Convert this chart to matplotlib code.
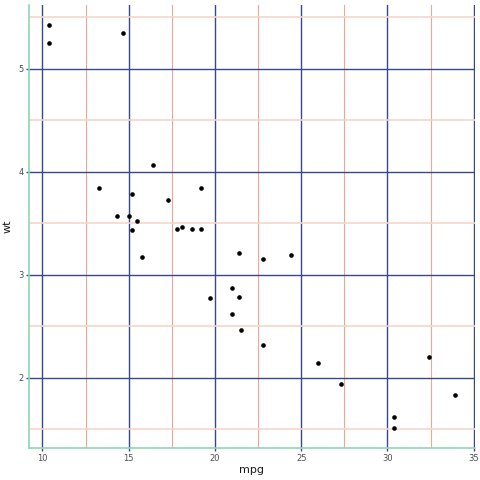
import matplotlib
matplotlib.use("Agg")
import matplotlib.pyplot as plt
from matplotlib.ticker import MultipleLocator

mpg = [21.0, 21.0, 22.8, 21.4, 18.7, 18.1, 14.3, 24.4, 22.8, 19.2, 17.8,
       16.4, 17.3, 15.2, 10.4, 10.4, 14.7, 32.4, 30.4, 33.9, 21.5, 15.5,
       15.2, 13.3, 19.2, 27.3, 26.0, 30.4, 15.8, 19.7, 15.0, 21.4]
wt = [2.620, 2.875, 2.320, 3.215, 3.440, 3.460, 3.570, 3.190, 3.150, 3.440,
      3.440, 4.070, 3.730, 3.780, 5.250, 5.424, 5.345, 2.200, 1.615, 1.835,
      2.465, 3.520, 3.435, 3.840, 3.845, 1.935, 2.140, 1.513, 3.170, 2.770,
      3.570, 2.780]

navy = "#34488a"
green = "#8fd6b4"

fig = plt.figure(figsize=(4.8, 4.8), dpi=100)
ax = fig.add_axes([29 / 480, 32 / 480, 446 / 480, 443 / 480])

ax.scatter(mpg, wt, s=11, color="black", zorder=3, linewidths=0)

xr = max(mpg) - min(mpg)
yr = max(wt) - min(wt)
ax.set_xlim(min(mpg) - 0.05 * xr, max(mpg) + 0.05 * xr)
ax.set_ylim(min(wt) - 0.05 * yr, max(wt) + 0.05 * yr)

ax.xaxis.set_major_locator(MultipleLocator(5))
ax.xaxis.set_minor_locator(MultipleLocator(2.5))
ax.yaxis.set_major_locator(MultipleLocator(1))
ax.yaxis.set_minor_locator(MultipleLocator(0.5))

ax.grid(which="major", color=navy, linewidth=1.0)
ax.xaxis.grid(which="minor", color="#eaa995", linewidth=0.8)
ax.yaxis.grid(which="minor", color="#f6d5c8", linewidth=1.2)
ax.set_axisbelow(True)

for side in ["top", "right"]:
    ax.spines[side].set_visible(False)
for side in ["left", "bottom"]:
    ax.spines[side].set_color(green)
    ax.spines[side].set_linewidth(1.2)

ax.tick_params(which="major", length=2.5, width=1, color=navy,
               labelsize=6, labelcolor="#4d4d4d", pad=1.5)
ax.tick_params(which="minor", length=0)

ax.set_xlabel("mpg", fontsize=8, color="#1a1a1a", labelpad=2)
ax.set_ylabel("wt", fontsize=8, color="#1a1a1a", labelpad=4)

fig.savefig("out.png", dpi=100)
